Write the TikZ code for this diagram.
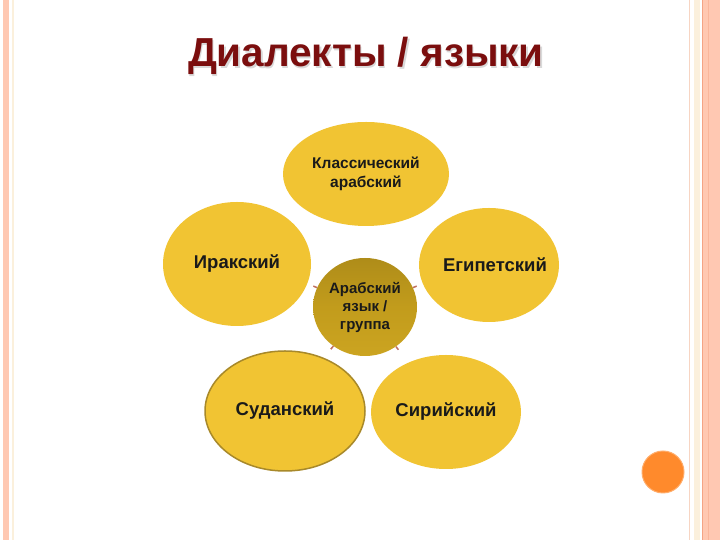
\documentclass[tikz,border=0pt]{standalone}
\usepackage{fontspec}
\setmainfont{Liberation Sans}
\usetikzlibrary{shapes.geometric}
\definecolor{gold}{HTML}{F1C433}
\definecolor{goldd}{HTML}{C29C1C}
\definecolor{goldrim}{HTML}{A8892A}
\definecolor{titlered}{HTML}{7B0E0E}
\definecolor{stripe}{HTML}{FFC8B2}
\definecolor{stripeline}{HTML}{F4A486}
\definecolor{cream}{HTML}{FBF0DC}
\definecolor{tickc}{HTML}{C07060}
\definecolor{dot}{HTML}{FF8A2C}
\definecolor{txt}{HTML}{1A1A1A}
\tikzset{
  x=1pt,y=1pt,
  petal/.style={ellipse,fill=gold,inner sep=0pt,text=txt,font=\bfseries\fontsize{18.5}{20}\selectfont,align=center},
  hub/.style={ellipse,inner sep=0pt,text=txt,top color=goldd!90!black,bottom color=goldd!80!gold,middle color=goldd,font=\bfseries\fontsize{15}{18}\selectfont,align=center},
  tickline/.style={draw=tickc,line width=1.5pt}
}
\begin{document}
\begin{tikzpicture}
\useasboundingbox (0,0) rectangle (720,540);
\fill[white] (0,0) rectangle (720,540);
% frame stripes
\fill[stripe] (3,0) rectangle (9,540);
\draw[cream,line width=1.5pt] (13,0) -- (13,540);
\draw[stripe!80!brown!60,line width=0.8pt] (689.5,0) -- (689.5,540);
\fill[cream] (694,0) rectangle (700,540);
\fill[stripe] (702,0) rectangle (720,540);
\draw[stripeline,line width=1pt] (702.5,0) -- (702.5,540);
\draw[stripeline!50!stripe,line width=0.8pt] (708.5,0) -- (708.5,540);
% title
\node[text=gray!30,font=\bfseries\fontsize{40.5}{44}\selectfont,anchor=base] (titleshadow) at (367.5,471.5) {Диалекты / языки};
\node[text=titlered,font=\bfseries\fontsize{40.5}{44}\selectfont,anchor=base] (title) at (366,473) {Диалекты / языки};
% petals
\node[petal,minimum width=166,minimum height=104,font=\bfseries\fontsize{15.5}{19}\selectfont] (classic) at (366,366) {Классический\\арабский};
\node[petal,minimum width=148,minimum height=124] (iraq) at (237,276) {Иракский};
\node[petal,minimum width=140,minimum height=114] (egypt) at (489,275) {\makebox[0pt]{\hspace*{12pt}Египетский}};
\node[petal,minimum width=160,minimum height=120,draw=goldrim,line width=1.5pt] (sudan) at (285,129) {Суданский};
\node[petal,minimum width=150,minimum height=114] (syria) at (446,128) {Сирийский};
% hub
\node[hub,minimum width=104,minimum height=98] (hub) at (365,233) {Арабский\\язык /\\группа};
% connector stubs
\draw[tickline] (hub.158) -- ++(158:4);
\draw[tickline] (hub.22) -- ++(22:4);
\draw[tickline] (hub.231) -- ++(231:4);
\draw[tickline] (hub.308) -- ++(308:4);
% orange dot
\node[circle,fill=dot,draw=dot!70!white,line width=1pt,minimum size=42,inner sep=0pt] (dot) at (663,68) {};
\end{tikzpicture}
\end{document}
